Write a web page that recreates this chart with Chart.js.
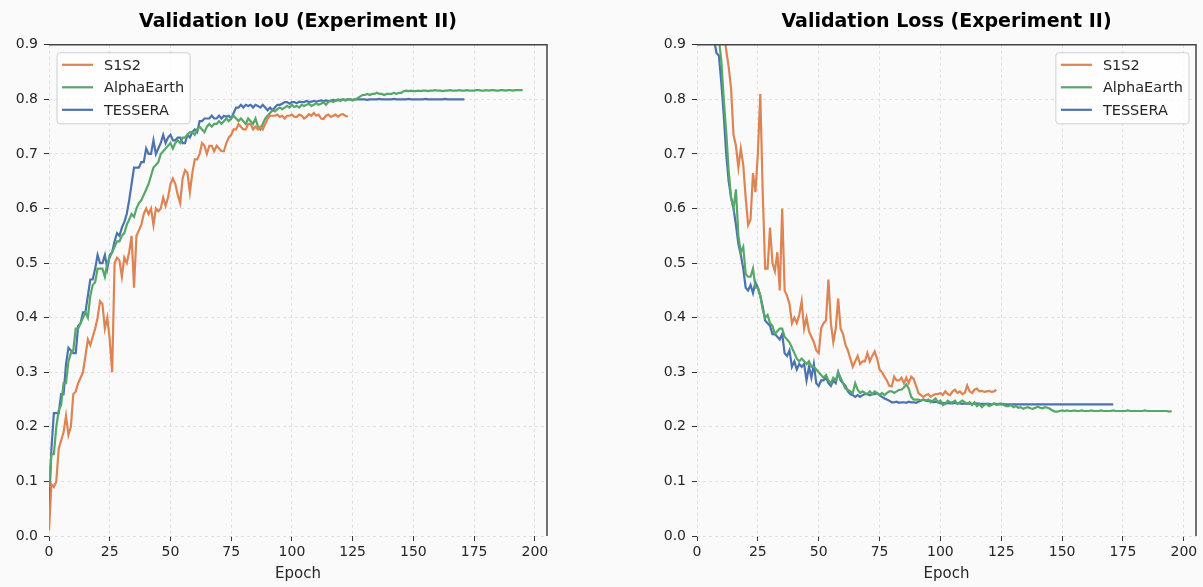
<!DOCTYPE html>
<html>
<head>
<meta charset="utf-8">
<script src="https://cdn.jsdelivr.net/npm/chart.js@4.4.1/dist/chart.umd.min.js"></script>
<style>
  body { margin: 0; background: #fafafa; overflow: hidden; }
  #wrap { position: relative; width: 1203px; height: 587px; }
  canvas { position: absolute; top: 0; }
  #iouChart { left: 0; }
  #lossChart { left: 600px; }
</style>
</head>
<body>
<div id="wrap">
  <canvas id="iouChart" width="600" height="587"></canvas>
  <canvas id="lossChart" width="603" height="587"></canvas>
</div>
<script>
// series names and colours
const seriesNames = ['S1S2', 'AlphaEarth', 'TESSERA'];
const seriesColors = ['#dd8452', '#55a868', '#4c72b0'];
const xTicks = [0, 25, 50, 75, 100, 125, 150, 175, 200];
const yTicks = [0.0, 0.1, 0.2, 0.3, 0.4, 0.5, 0.6, 0.7, 0.8, 0.9];

// validation IoU, one value per epoch starting at epoch 0
const iouS1S2 = [
  0.01, 0.095, 0.09, 0.10, 0.16, 0.175, 0.19, 0.22, 0.185, 0.20,
  0.26, 0.265, 0.28, 0.29, 0.30, 0.33, 0.36, 0.35, 0.365, 0.38,
  0.40, 0.43, 0.425, 0.38, 0.40, 0.36, 0.30, 0.50, 0.51, 0.505,
  0.475, 0.51, 0.50, 0.52, 0.55, 0.455, 0.55, 0.56, 0.57, 0.59,
  0.60, 0.59, 0.60, 0.57, 0.60, 0.595, 0.60, 0.62, 0.605, 0.62,
  0.645, 0.655, 0.645, 0.625, 0.61, 0.655, 0.67, 0.665, 0.63, 0.665,
  0.69, 0.69, 0.70, 0.72, 0.715, 0.70, 0.715, 0.715, 0.705, 0.715,
  0.71, 0.705, 0.705, 0.72, 0.73, 0.735, 0.745, 0.745, 0.755, 0.75,
  0.745, 0.745, 0.755, 0.755, 0.745, 0.75, 0.745, 0.75, 0.745, 0.755,
  0.765, 0.77, 0.77, 0.77, 0.772, 0.768, 0.77, 0.765, 0.77, 0.77,
  0.772, 0.768, 0.768, 0.772, 0.77, 0.765, 0.768, 0.773, 0.77, 0.775,
  0.77, 0.772, 0.765, 0.764, 0.77, 0.772, 0.768, 0.77, 0.772, 0.768,
  0.772, 0.773, 0.77, 0.768
];
const iouAlphaEarth = [
  0.09, 0.15, 0.15, 0.20, 0.23, 0.24, 0.28, 0.28, 0.32, 0.335,
  0.34, 0.38, 0.38, 0.39, 0.40, 0.41, 0.40, 0.44, 0.46, 0.465,
  0.49, 0.49, 0.49, 0.475, 0.50, 0.51, 0.52, 0.53, 0.54, 0.54,
  0.55, 0.555, 0.57, 0.58, 0.59, 0.585, 0.60, 0.61, 0.615, 0.625,
  0.635, 0.645, 0.66, 0.675, 0.68, 0.685, 0.70, 0.705, 0.71, 0.715,
  0.72, 0.71, 0.72, 0.725, 0.72, 0.73, 0.73, 0.735, 0.74, 0.74,
  0.735, 0.745, 0.75, 0.745, 0.74, 0.75, 0.755, 0.75, 0.755, 0.755,
  0.76, 0.755, 0.76, 0.765, 0.76, 0.765, 0.77, 0.765, 0.76, 0.765,
  0.76, 0.755, 0.765, 0.76, 0.755, 0.765, 0.75, 0.745, 0.755, 0.765,
  0.77, 0.775, 0.78, 0.778, 0.782, 0.785, 0.782, 0.785, 0.788, 0.785,
  0.79, 0.786, 0.788, 0.785, 0.79, 0.788, 0.79, 0.792, 0.788, 0.79,
  0.793, 0.79, 0.792, 0.795, 0.79, 0.795, 0.797, 0.795, 0.798, 0.80,
  0.797, 0.80, 0.798, 0.80, 0.80, 0.798, 0.80, 0.802, 0.805, 0.808,
  0.808, 0.81, 0.808, 0.81, 0.81, 0.812, 0.81, 0.81, 0.808, 0.81,
  0.81, 0.81, 0.812, 0.81, 0.812, 0.812, 0.815, 0.816, 0.815, 0.816,
  0.815, 0.815, 0.816, 0.815, 0.816, 0.816, 0.815, 0.816, 0.816, 0.817,
  0.816, 0.816, 0.815, 0.816, 0.816, 0.817, 0.816, 0.816, 0.816, 0.817,
  0.816, 0.816, 0.817, 0.816, 0.816, 0.816, 0.817, 0.817, 0.816, 0.816,
  0.817, 0.816, 0.817, 0.817, 0.816, 0.816, 0.817, 0.817, 0.816, 0.817,
  0.817, 0.816, 0.817, 0.817, 0.817, 0.817
];
const iouTessera = [
  0.05, 0.16, 0.225, 0.225, 0.225, 0.26, 0.26, 0.315, 0.345, 0.34,
  0.335, 0.335, 0.385, 0.39, 0.41, 0.41, 0.44, 0.47, 0.47, 0.49,
  0.515, 0.50, 0.50, 0.515, 0.49, 0.515, 0.52, 0.54, 0.555, 0.55,
  0.565, 0.575, 0.59, 0.615, 0.645, 0.675, 0.675, 0.675, 0.685, 0.685,
  0.71, 0.70, 0.70, 0.725, 0.70, 0.71, 0.72, 0.735, 0.72, 0.73,
  0.735, 0.725, 0.725, 0.73, 0.73, 0.72, 0.72, 0.735, 0.73, 0.74,
  0.745, 0.74, 0.76, 0.76, 0.765, 0.765, 0.765, 0.77, 0.765, 0.765,
  0.77, 0.765, 0.77, 0.768, 0.77, 0.765, 0.775, 0.785, 0.785, 0.79,
  0.785, 0.79, 0.788, 0.79, 0.785, 0.79, 0.788, 0.785, 0.79, 0.785,
  0.78, 0.785, 0.78, 0.785, 0.79, 0.79, 0.792, 0.795, 0.795, 0.792,
  0.795, 0.795, 0.793, 0.796, 0.795, 0.795, 0.797, 0.795, 0.796, 0.797,
  0.796, 0.797, 0.798, 0.797, 0.798, 0.797, 0.798, 0.799, 0.798, 0.798,
  0.799, 0.80, 0.799, 0.80, 0.80, 0.799, 0.80, 0.80, 0.80, 0.80,
  0.80, 0.799, 0.80, 0.80, 0.80, 0.80, 0.801, 0.80, 0.80, 0.80,
  0.80, 0.80, 0.801, 0.80, 0.80, 0.80, 0.80, 0.80, 0.801, 0.80,
  0.80, 0.80, 0.80, 0.80, 0.80, 0.801, 0.80, 0.80, 0.80, 0.80,
  0.80, 0.80, 0.80, 0.801, 0.80, 0.80, 0.80, 0.80, 0.80, 0.80,
  0.80, 0.80
];

// validation loss, one value per epoch starting at epoch 0 (early ones run above the 0.9 limit)
const lossS1S2 = [
  1.50, 1.40, 1.32, 1.25, 1.18, 1.12, 1.07, 1.03, 1.00, 0.97,
  0.95, 0.93, 0.89, 0.86, 0.82, 0.735, 0.715, 0.675, 0.71, 0.68,
  0.62, 0.57, 0.58, 0.665, 0.63, 0.70, 0.81, 0.63, 0.49, 0.49,
  0.565, 0.50, 0.485, 0.52, 0.45, 0.60, 0.45, 0.44, 0.425, 0.39,
  0.40, 0.39, 0.405, 0.43, 0.38, 0.40, 0.375, 0.365, 0.355, 0.34,
  0.335, 0.38, 0.39, 0.395, 0.47, 0.39, 0.355, 0.38, 0.435, 0.38,
  0.37, 0.35, 0.34, 0.325, 0.31, 0.32, 0.33, 0.315, 0.32, 0.32,
  0.335, 0.32, 0.33, 0.338, 0.325, 0.305, 0.30, 0.292, 0.285, 0.275,
  0.274, 0.292, 0.285, 0.285, 0.29, 0.28, 0.29, 0.28, 0.292, 0.288,
  0.275, 0.262, 0.258, 0.255, 0.258, 0.26, 0.255, 0.258, 0.26, 0.26,
  0.262, 0.258, 0.265, 0.26, 0.258, 0.265, 0.268, 0.262, 0.265, 0.26,
  0.262, 0.276, 0.265, 0.262, 0.268, 0.27, 0.265, 0.266, 0.264, 0.265,
  0.266, 0.264, 0.265, 0.268
];
const lossAlphaEarth = [
  1.45, 1.33, 1.23, 1.15, 1.08, 1.03, 0.99, 0.96, 0.93, 0.91,
  0.87, 0.80, 0.74, 0.67, 0.62, 0.60, 0.635, 0.55, 0.52, 0.53,
  0.48, 0.475, 0.475, 0.49, 0.455, 0.455, 0.44, 0.415, 0.40, 0.405,
  0.39, 0.385, 0.37, 0.375, 0.38, 0.38, 0.365, 0.36, 0.355, 0.345,
  0.335, 0.325, 0.32, 0.325, 0.32, 0.315, 0.32, 0.31, 0.31, 0.305,
  0.30, 0.295, 0.29, 0.295, 0.285, 0.28, 0.29, 0.285, 0.30, 0.29,
  0.28, 0.27, 0.268, 0.265, 0.262, 0.28, 0.268, 0.262, 0.265, 0.262,
  0.26, 0.265, 0.26, 0.265, 0.262, 0.258, 0.262, 0.258, 0.262, 0.265,
  0.265, 0.262, 0.265, 0.268, 0.268, 0.272, 0.278, 0.27, 0.255, 0.25,
  0.25, 0.25, 0.248, 0.25, 0.248, 0.25, 0.245, 0.248, 0.252, 0.245,
  0.248, 0.24, 0.242, 0.248, 0.245, 0.245, 0.248, 0.242, 0.245, 0.248,
  0.245, 0.242, 0.245, 0.24, 0.245, 0.238, 0.242, 0.236, 0.24, 0.242,
  0.238, 0.24, 0.243, 0.24, 0.242, 0.243, 0.24, 0.238, 0.238, 0.24,
  0.236, 0.238, 0.235, 0.236, 0.233, 0.235, 0.236, 0.234, 0.233, 0.235,
  0.237, 0.235, 0.234, 0.236, 0.235, 0.233, 0.23, 0.228, 0.228, 0.229,
  0.23, 0.229, 0.23, 0.229, 0.229, 0.23, 0.229, 0.229, 0.23, 0.229,
  0.229, 0.229, 0.23, 0.229, 0.229, 0.229, 0.23, 0.229, 0.229, 0.229,
  0.229, 0.23, 0.229, 0.229, 0.229, 0.229, 0.229, 0.23, 0.229, 0.229,
  0.229, 0.229, 0.229, 0.229, 0.23, 0.229, 0.229, 0.229, 0.229, 0.229,
  0.229, 0.229, 0.229, 0.229, 0.228, 0.229
];
const lossTessera = [
  1.40, 1.28, 1.18, 1.10, 1.04, 0.99, 0.95, 0.91, 0.885, 0.88,
  0.83, 0.77, 0.70, 0.65, 0.62, 0.60, 0.57, 0.535, 0.515, 0.49,
  0.455, 0.45, 0.46, 0.445, 0.465, 0.455, 0.44, 0.42, 0.395, 0.39,
  0.385, 0.37, 0.37, 0.365, 0.36, 0.37, 0.335, 0.33, 0.34, 0.31,
  0.32, 0.305, 0.315, 0.31, 0.315, 0.285, 0.31, 0.29, 0.315, 0.28,
  0.275, 0.285, 0.285, 0.29, 0.28, 0.275, 0.285, 0.28, 0.30, 0.285,
  0.28, 0.275, 0.265, 0.26, 0.258, 0.255, 0.258, 0.255, 0.258, 0.26,
  0.26, 0.258, 0.26, 0.26, 0.262, 0.258, 0.255, 0.252, 0.25, 0.248,
  0.245, 0.245, 0.246, 0.244, 0.245, 0.245, 0.244, 0.246, 0.245, 0.245,
  0.244, 0.246, 0.248, 0.25, 0.248, 0.247, 0.248, 0.245, 0.246, 0.245,
  0.243, 0.244, 0.243, 0.244, 0.243, 0.243, 0.244, 0.243, 0.243, 0.242,
  0.243, 0.242, 0.243, 0.242, 0.242, 0.243, 0.242, 0.242, 0.242, 0.242,
  0.242, 0.241, 0.242, 0.242, 0.241, 0.241, 0.242, 0.241, 0.241, 0.241,
  0.241, 0.241, 0.241, 0.241, 0.241, 0.241, 0.241, 0.241, 0.241, 0.241,
  0.241, 0.241, 0.241, 0.241, 0.241, 0.241, 0.241, 0.241, 0.241, 0.241,
  0.241, 0.241, 0.241, 0.241, 0.241, 0.241, 0.241, 0.241, 0.241, 0.241,
  0.241, 0.241, 0.241, 0.241, 0.241, 0.241, 0.241, 0.241, 0.241, 0.241,
  0.241, 0.241
];

const FONT = '"DejaVu Sans", "Liberation Sans", sans-serif';
const TEXT = '#262626';

// legend drawn inside the plot, matplotlib style
const boxLegend = {
  id: 'boxLegend',
  afterDatasetsDraw(chart, args, opts) {
    const { ctx, chartArea } = chart;
    const items = chart.data.datasets;
    ctx.save();
    ctx.font = '14.5px ' + FONT;
    const textW = Math.max(...items.map(d => ctx.measureText(d.label).width));
    const w = textW + 53, h = 71;
    const x = opts.side === 'right' ? chartArea.right - 7 - w : chartArea.left + 8;
    const y = chartArea.top + 8;
    ctx.beginPath();
    ctx.roundRect(x, y, w, h, 3);
    ctx.fillStyle = 'rgba(255,255,255,0.8)';
    ctx.fill();
    ctx.strokeStyle = '#cfcfcf';
    ctx.lineWidth = 1;
    ctx.stroke();
    items.forEach((d, i) => {
      const cy = y + 12 + i * 22.5;
      ctx.beginPath();
      ctx.moveTo(x + 5, cy);
      ctx.lineTo(x + 36, cy);
      ctx.strokeStyle = d.borderColor;
      ctx.lineWidth = 2.2;
      ctx.stroke();
      ctx.fillStyle = TEXT;
      ctx.textBaseline = 'middle';
      ctx.fillText(d.label, x + 47, cy + 1);
    });
    ctx.restore();
  }
};

// top and right spines only
const spines = {
  id: 'spines',
  afterDraw(chart) {
    const { ctx, chartArea } = chart;
    ctx.save();
    ctx.strokeStyle = '#444';
    ctx.lineWidth = 1.5;
    ctx.beginPath();
    ctx.moveTo(chartArea.left, chartArea.top);
    ctx.lineTo(chartArea.right, chartArea.top);
    ctx.lineTo(chartArea.right, chartArea.bottom);
    ctx.stroke();
    ctx.restore();
  }
};

function makeChart(id, title, values, side, padLeft, padRight) {
  const datasets = values.map((arr, i) => ({
    label: seriesNames[i],
    data: arr.map((v, e) => ({ x: e, y: v })),
    borderColor: seriesColors[i],
    borderWidth: 2.2,
    pointRadius: 0,
    tension: 0,
    fill: false
  }));
  return new Chart(document.getElementById(id), {
    type: 'line',
    data: { datasets },
    plugins: [boxLegend, spines],
    options: {
      responsive: false,
      animation: false,
      layout: { padding: { left: padLeft, right: padRight, top: 0, bottom: 0 } },
      plugins: {
        legend: { display: false },
        tooltip: { enabled: false },
        title: {
          display: true,
          text: title,
          fullSize: false,
          color: '#000',
          font: { family: FONT, size: 19, weight: 'bold' },
          padding: { top: 11, bottom: 11 }
        },
        boxLegend: { side }
      },
      scales: {
        x: {
          type: 'linear',
          min: 0,
          max: 205,
          afterFit(s) { s.height = 51; },
          afterBuildTicks(s) { s.ticks = xTicks.map(v => ({ value: v })); },
          ticks: { color: TEXT, font: { family: FONT, size: 14 }, padding: 3, maxRotation: 0 },
          grid: { color: '#dadada', lineWidth: 0.8, tickColor: '#333', tickLength: 5, tickWidth: 1, tickBorderDash: [1, 0] },
          border: { display: false, dash: [3, 3] },
          title: { display: true, text: 'Epoch', color: TEXT, font: { family: FONT, size: 15 }, padding: { top: 0, bottom: 4 } }
        },
        y: {
          min: 0,
          max: 0.9,
          afterFit(s) { s.width = 49; },
          afterBuildTicks(s) { s.ticks = yTicks.map(v => ({ value: v })); },
          ticks: { color: TEXT, font: { family: FONT, size: 14 }, padding: 6, callback: v => v.toFixed(1) },
          grid: { color: '#dadada', lineWidth: 0.8, tickColor: '#333', tickLength: 5, tickWidth: 1, tickBorderDash: [1, 0] },
          border: { display: false, dash: [3, 3] }
        }
      }
    }
  });
}

makeChart('iouChart', 'Validation IoU (Experiment II)', [iouS1S2, iouAlphaEarth, iouTessera], 'left', 0, 53);
makeChart('lossChart', 'Validation Loss (Experiment II)', [lossS1S2, lossAlphaEarth, lossTessera], 'right', 48, 7);
</script>
</body>
</html>
